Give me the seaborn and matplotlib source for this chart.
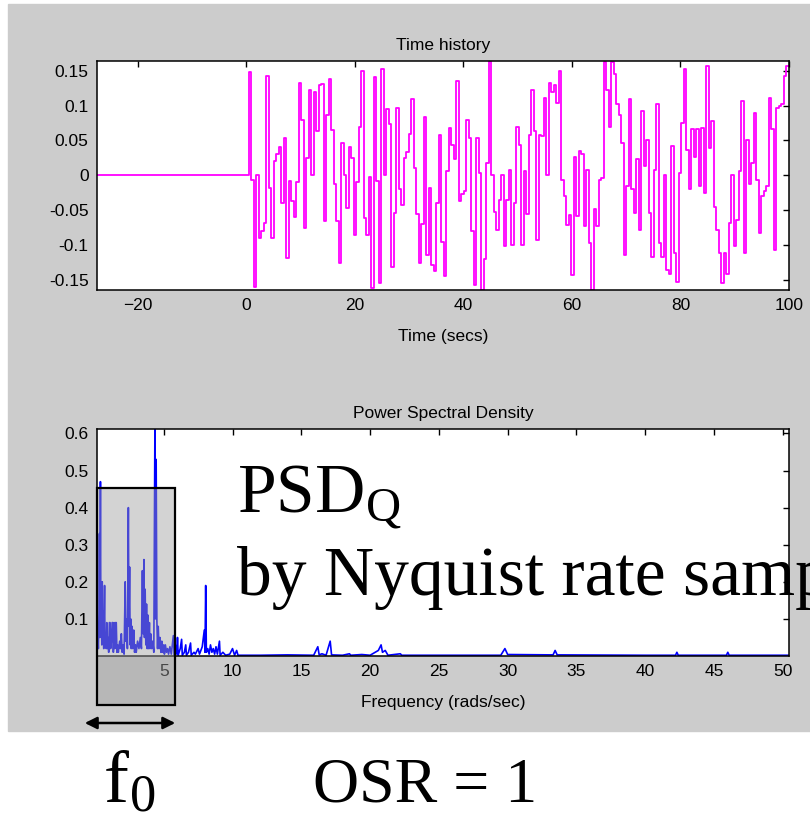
import numpy as np
import pandas as pd
import seaborn as sns
import matplotlib
matplotlib.use('Agg')
import matplotlib.pyplot as plt
from matplotlib.patches import Rectangle, FancyArrowPatch

sns.set_style('white')
plt.rcParams['font.family'] = ['Liberation Sans', 'DejaVu Sans']
plt.rcParams['mathtext.fontset'] = 'stix'
plt.rcParams['text.color'] = 'black'
plt.rcParams['axes.labelcolor'] = 'black'
plt.rcParams['xtick.color'] = 'black'
plt.rcParams['ytick.color'] = 'black'

# quantisation error, held samples
q_vals = [0, 0.148, -0.006, -0.16, 0.0, -0.09, -0.08, -0.068, 0.142, -0.018,
          -0.09, 0.02, 0.03, 0.04, -0.04, 0.053, -0.118, -0.008, -0.037, -0.06,
          -0.01, 0.133, 0.079, -0.075, 0.025, 0.122, 0.0, 0.12, 0.063, 0.129,
          0.131, -0.066, 0.086, 0.138, 0.065, -0.013, -0.065, -0.126, 0.046, 0.0,
          -0.047, 0.04, 0.025, -0.085, -0.01, 0.07, 0.15, -0.061, -0.085, -0.003,
          -0.162, 0.141, -0.008, -0.155, 0.153, 0.0, 0.095, 0.073, -0.132, -0.054,
          0.097, -0.02, -0.042, 0.025, 0.033, 0.059, 0.109, 0.011, -0.056, -0.126,
          -0.07, 0.084, -0.114, -0.018, -0.128, -0.137, -0.04, 0.058, -0.095, -0.145,
          0.006, 0.068, 0.044, 0.023, 0.135, -0.037, -0.027, -0.023, 0.08, 0.053,
          -0.08, -0.157, 0.054, 0.004,
          -0.165, -0.12, 0.018, 0.164, 0.0, -0.052, -0.078, -0.035, 0.0, -0.102,
          -0.035, 0.008, -0.1, -0.04, 0.07, 0.044, -0.1, 0.006, -0.055, 0.058,
          0.123, 0.063, -0.093, 0.058, 0.056, 0.111, 0.0, 0.133, 0.119, 0.13,
          0.104, 0.15, -0.006, -0.03, -0.071, -0.057, -0.143, 0.027, -0.059, 0.035,
          0.03, -0.073, 0.008, -0.097, -0.165, -0.049, -0.073, -0.006, -0.004, 0.162,
          0.123, 0.07, 0.162, 0.145, 0.102, 0.087, 0.047, -0.114, -0.016, 0.109,
          -0.02, -0.054, 0.023, -0.078, 0.092, 0.013, 0.051, -0.054, -0.117, 0.008,
          0.102, -0.097, -0.117, 0.0, -0.136, -0.141, 0.042, -0.112, -0.153, 0.003,
          0.075, 0.152, 0.037, -0.02, 0.066, 0.027, 0.066, -0.016, 0.068, -0.025,
          0.157, 0.039, 0.078, -0.045, -0.078, -0.112, -0.155, -0.112, -0.141, -0.069,
          0.0, -0.102, -0.064, 0.006, 0.107, -0.112, 0.051, -0.013, 0.018, 0.09,
          -0.006, -0.083, -0.03, -0.023, -0.016, 0.111, 0.066, -0.107, 0.097, 0.1,
          0.102, 0.143, 0.157]
t_start, t_end = -27.5, 100

# PSD points (rad/s, value)
psd_f = [0.15, 0.2, 0.25, 0.3, 0.33, 0.36, 0.4, 0.43, 0.46, 0.5, 0.53, 0.56, 0.6, 0.64,
         0.7, 0.73, 0.78, 0.82, 0.86, 0.9, 0.95, 1.0, 1.05, 1.1, 1.14, 1.2, 1.25, 1.3,
         1.34, 1.4, 1.45, 1.5, 1.55, 1.6, 1.65, 1.7, 1.8, 1.86, 1.92, 1.98, 2.05, 2.12,
         2.2, 2.25, 2.3, 2.36, 2.43, 2.47, 2.52, 2.56, 2.6, 2.64, 2.7, 2.75, 2.82, 2.88,
         2.95, 3.0, 3.1, 3.2, 3.3, 3.38, 3.45, 3.5, 3.56, 3.6, 3.65, 3.7, 3.75, 3.8,
         3.86, 3.9, 3.96, 4.0, 4.05, 4.12, 4.2, 4.28, 4.36, 4.4, 4.45, 4.5, 4.55, 4.6,
         4.66, 4.72, 4.8, 4.86, 4.92, 5.0, 5.05, 5.12, 5.2, 5.28, 5.35, 5.45, 5.55, 5.7,
         5.76, 5.85, 5.95, 6.0, 6.05, 6.2, 6.3, 6.35, 6.5, 6.6, 6.65, 6.8, 6.95, 7.0,
         7.2, 7.3, 7.5, 7.6, 7.8, 7.95, 8.0, 8.05, 8.1, 8.2, 8.3, 8.4, 8.5, 8.6, 8.7,
         8.8, 8.9, 9.05, 9.1, 9.3, 9.5, 9.8, 10.0, 10.15, 10.3, 10.4, 12.0, 14.0, 15.9,
         16.2, 16.3, 16.5, 16.8, 17.1, 17.2, 18.0, 18.5, 18.6, 19.4, 20.0, 20.6, 20.8,
         20.9, 21.1, 21.3, 22.2, 22.3, 24.0, 29.5, 29.8, 30.0, 33.3, 33.45, 33.6, 40.0,
         42.2, 42.3, 42.4, 45.9, 46.0, 46.1, 50.45]
psd_v = [0.0, 0.06, 0.02, 0.12, 0.33, 0.05, 0.47, 0.1, 0.13, 0.03, 0.2, 0.04, 0.12, 0.02,
         0.19, 0.03, 0.06, 0.02, 0.09, 0.02, 0.05, 0.01, 0.09, 0.09, 0.02, 0.04, 0.09, 0.09,
         0.01, 0.09, 0.02, 0.09, 0.09, 0.01, 0.03, 0.01, 0.04, 0.02, 0.06, 0.01, 0.03, 0.005,
         0.2, 0.04, 0.1, 0.02, 0.4, 0.08, 0.24, 0.03, 0.1, 0.02, 0.08, 0.02, 0.07, 0.01,
         0.03, 0.01, 0.04, 0.02, 0.05, 0.02, 0.23, 0.06, 0.26, 0.05, 0.18, 0.03, 0.14, 0.02,
         0.11, 0.02, 0.09, 0.02, 0.06, 0.02, 0.04, 0.01, 0.62, 0.1, 0.53, 0.1, 0.02, 0.08,
         0.02, 0.05, 0.01, 0.04, 0.01, 0.03, 0.005, 0.03, 0.01, 0.02, 0.005, 0.025, 0.005, 0.055,
         0.002, 0.03, 0.005, 0.05, 0.002, 0.02, 0.045, 0.002, 0.01, 0.03, 0.002, 0.01, 0.035, 0.002,
         0.01, 0.005, 0.02, 0.005, 0.025, 0.07, 0.01, 0.19, 0.01, 0.02, 0.005, 0.03, 0.01, 0.02, 0.005,
         0.025, 0.005, 0.04, 0.002, 0.01, 0.002, 0.005, 0.02, 0.002, 0.015, 0.002, 0.002, 0.003, 0.002,
         0.025, 0.003, 0.006, 0.002, 0.04, 0.003, 0.002, 0.006, 0.002, 0.004, 0.002, 0.015, 0.03,
         0.01, 0.015, 0.002, 0.006, 0.002, 0.002, 0.002, 0.02, 0.004, 0.003, 0.015, 0.003, 0.002,
         0.002, 0.01, 0.002, 0.002, 0.01, 0.002, 0.002]

top_xticks = [-20, 0, 20, 40, 60, 80, 100]
top_yticks = [-0.15, -0.1, -0.05, 0, 0.05, 0.1, 0.15]
top_ylabels = ['-0.15', '-0.1', '-0.05', '0', '0.05', '0.1', '0.15']
bot_xticks = [5, 10, 15, 20, 25, 30, 35, 40, 45, 50]
bot_yticks = [0.1, 0.2, 0.3, 0.4, 0.5, 0.6]

W, H = 810, 815
fig = plt.figure(figsize=(W / 100, H / 100), dpi=100, facecolor='white')
# matlab grey window
fig.patches.append(Rectangle((8 / W, 1 - 731 / H), 802 / W, 727 / H,
                             transform=fig.transFigure, color='#cccccc', zorder=-10))

def pxbox(l, t, r, b):
    return [l / W, 1 - b / H, (r - l) / W, (b - t) / H]

def matlab_axes(ax):
    ax.set_facecolor('white')
    for s in ax.spines.values():
        s.set_color('black')
        s.set_linewidth(1.1)
        s.set_visible(True)
    ax.tick_params(direction='in', length=4, width=1, top=True, right=True,
                   labelsize=12.5, pad=6, colors='black')

# time history
df_t = pd.DataFrame({'t': np.r_[t_start, np.linspace(0, t_end, len(q_vals) + 1)],
                     'q': np.r_[0, q_vals, q_vals[-1]]})
ax1 = fig.add_axes(pxbox(97, 61, 789, 290))
sns.lineplot(data=df_t, x='t', y='q', ax=ax1, color='#ff00ff', lw=1.3,
             drawstyle='steps-post', estimator=None, sort=False)
ax1.set_xlim(t_start, t_end)
ax1.set_ylim(-0.1645, 0.164)
ax1.set_xticks(top_xticks)
ax1.set_yticks(top_yticks)
ax1.set_yticklabels(top_ylabels)
matlab_axes(ax1)
ax1.set_title('Time history', fontsize=12.5, pad=8, color='black')
ax1.set_xlabel('Time (secs)', fontsize=12.5, labelpad=11)
ax1.set_ylabel('')

# PSD
df_p = pd.DataFrame({'f': psd_f, 'p': psd_v})
ax2 = fig.add_axes(pxbox(97, 429, 789, 656))
sns.lineplot(data=df_p, x='f', y='p', ax=ax2, color='#0000ff', lw=1.2,
             estimator=None, sort=False)
ax2.set_xlim(0.15, 50.45)
ax2.set_ylim(0, 0.612)
ax2.set_xticks(bot_xticks)
ax2.set_yticks(bot_yticks)
matlab_axes(ax2)
ax2.set_title('Power Spectral Density', fontsize=12.5, pad=8, color='black')
ax2.set_xlabel('Frequency (rads/sec)', fontsize=12.5, labelpad=11)
ax2.set_ylabel('')

# f0 band box and arrow
fig.patches.append(Rectangle((97 / W, 1 - 705 / H), 78 / W, 217 / H,
                             transform=fig.transFigure, facecolor='#9f9f9f', alpha=0.45,
                             edgecolor='none', zorder=5))
fig.patches.append(Rectangle((97 / W, 1 - 705 / H), 78 / W, 217 / H,
                             transform=fig.transFigure, facecolor='none',
                             edgecolor='black', lw=1.6, zorder=6))
fig.patches.append(FancyArrowPatch((82 / W, 1 - 723 / H), (178 / W, 1 - 723 / H),
                                   transform=fig.transFigure, arrowstyle='<|-|>',
                                   mutation_scale=18, color='black', lw=1.8, zorder=6))

serif = ['Liberation Serif', 'DejaVu Serif']
fig.text(237 / W, 1 - 512 / H, r'PSD$_\mathregular{Q}$', fontsize=50, family=serif,
         va='baseline', ha='left', zorder=7, color='black')
fig.text(237 / W, 1 - 595 / H, 'by Nyquist rate sampling', fontsize=50, family=serif,
         va='baseline', ha='left', zorder=7, color='black')
fig.text(103 / W, 1 - 803 / H, r'f$_\mathregular{0}$', fontsize=54, family=serif,
         va='baseline', ha='left', zorder=7, color='black')
fig.text(313 / W, 1 - 802 / H, 'OSR = 1', fontsize=46, family=serif,
         va='baseline', ha='left', zorder=7, color='black')

fig.savefig('out.png', dpi=100, facecolor='white')
